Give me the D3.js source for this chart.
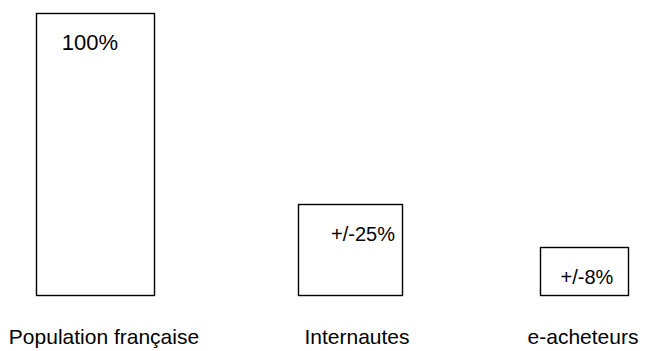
<!DOCTYPE html>
<html>
<head>
<meta charset="utf-8">
<script src="https://cdn.jsdelivr.net/npm/d3@7"></script>
<style>
  html, body { margin: 0; padding: 0; background: #fff; }
  svg { display: block; }
  text { font-family: "Liberation Sans", Arial, sans-serif; fill: #000; }
</style>
</head>
<body>
<svg id="chart" width="670" height="351"></svg>
<script>
// Share of each population group
const categories = ["Population française", "Internautes", "e-acheteurs"];
const values = [100, 25, 8];
const valueLabels = ["100%", "+/-25%", "+/-8%"];

const svg = d3.select("#chart");
const baseY = 295;
const topY = 13;

// Box centres and widths for each group
const x = d3.scaleOrdinal(categories, [95, 350, 584]);
const boxWidth = d3.scaleOrdinal(categories, [118, 104, 88]);

// Heights keep a small floor so the smallest box still holds its label
const y = d3.scaleLinear().domain([-11, 100]).range([baseY, topY]);

const data = categories.map((c, i) => ({ cat: c, value: values[i], label: valueLabels[i] }));

const g = svg.append("g");

g.selectAll("rect.box")
  .data(data)
  .join("rect")
  .attr("class", "box")
  .attr("x", d => x(d.cat) - boxWidth(d.cat) / 2 + 0.5)
  .attr("y", d => Math.round(y(d.value)) + 0.5)
  .attr("width", d => boxWidth(d.cat))
  .attr("height", d => baseY - Math.round(y(d.value)))
  .attr("fill", "#fff")
  .attr("stroke", "#000")
  .attr("stroke-width", 1.4);

g.selectAll("text.value")
  .data(data)
  .join("text")
  .attr("class", "value")
  .attr("x", (d, i) => x(d.cat) + [-5, 13, 3][i])
  .attr("y", d => y(d.value) + 37)
  .attr("text-anchor", "middle")
  .attr("font-size", (d, i) => i === 0 ? 22 : 20)
  .text(d => d.label);

g.selectAll("text.cat")
  .data(data)
  .join("text")
  .attr("class", "cat")
  .attr("x", (d, i) => x(d.cat) + [9, 7, -1][i])
  .attr("y", 344)
  .attr("text-anchor", "middle")
  .attr("font-size", 21)
  .text(d => d.cat);
</script>
</body>
</html>
